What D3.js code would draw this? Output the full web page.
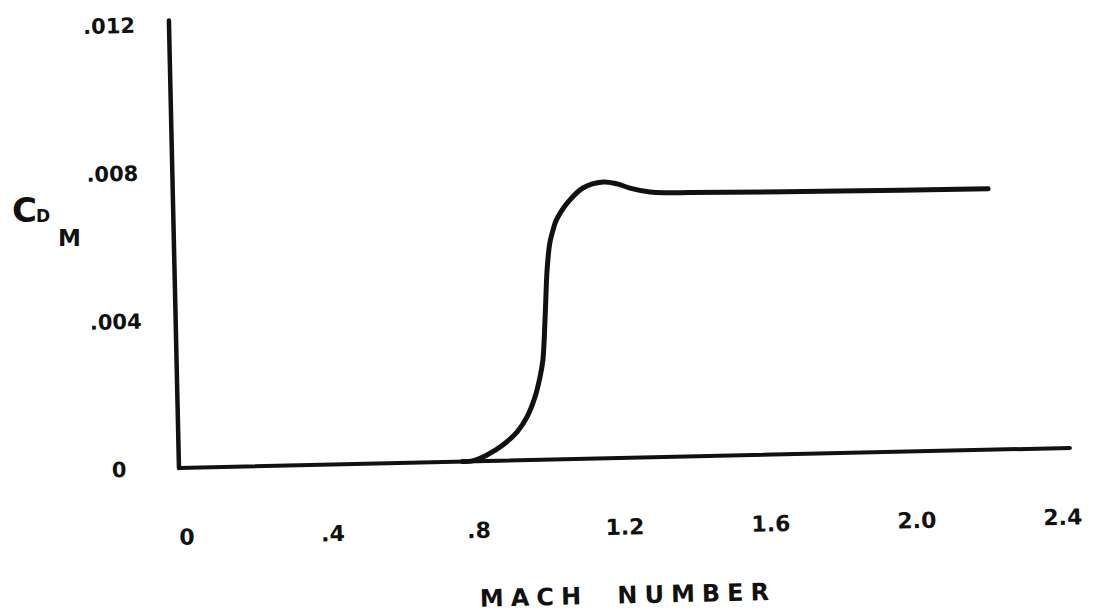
<!DOCTYPE html>
<html>
<head>
<meta charset="utf-8">
<script src="https://cdn.jsdelivr.net/npm/d3@7"></script>
<style>
  html, body { margin: 0; padding: 0; background: #fff; }
  svg { display: block; }
  text { font-family: "DejaVu Sans", sans-serif; font-weight: bold; fill: #111; }
</style>
</head>
<body>
<svg id="chart" width="1099" height="616"></svg>
<script>
// Drag coefficient C_DM versus Mach number
const mach = [0.76, 0.79, 0.828, 0.872, 0.912, 0.940, 0.963, 0.978, 0.987, 0.996, 1.004, 1.013, 1.022, 1.030, 1.045, 1.063, 1.107, 1.163, 1.201, 1.236, 1.291, 1.337, 1.40, 1.81, 2.217];
const cdm  = [0, 0.00002, 0.000165, 0.000425, 0.00077, 0.00117, 0.0017, 0.00224, 0.0027, 0.0039, 0.00513, 0.00585, 0.00618, 0.00642, 0.00668, 0.00692, 0.00732, 0.00747, 0.00741, 0.00729, 0.00717, 0.00714, 0.00713, 0.00708, 0.00705];

const xTicks = [0, 0.4, 0.8, 1.2, 1.6, 2.0, 2.4];
const xTickLabels = ["0", ".4", ".8", "1.2", "1.6", "2.0", "2.4"];
const yTicks = [0, 0.004, 0.008, 0.012];
const yTickLabels = ["0", ".004", ".008", ".012"];

// extent of the drawn axis lines, in data units
const xAxisExtent = [-0.0165, 2.425];
const yAxisExtent = [0, 0.0121];

const svg = d3.select("#chart");
svg.append("rect").attr("width", 1099).attr("height", 616).attr("fill", "#fff");

// the hand-drawn frame sits slightly tilted on the page
const g = svg.append("g").attr("transform", "translate(179,468) rotate(-1.29)");

const x = d3.scaleLinear().domain([0, 2.4]).range([6, 882]);
const y = d3.scaleLinear().domain([0, 0.012]).range([0, -444]);

// axis lines
g.append("line")
  .attr("x1", x(xAxisExtent[0])).attr("x2", x(xAxisExtent[1]))
  .attr("y1", y(0)).attr("y2", y(0))
  .attr("stroke", "#111").attr("stroke-width", 4).attr("stroke-linecap", "round");
g.append("line")
  .attr("x1", x(xAxisExtent[0])).attr("x2", x(xAxisExtent[0]))
  .attr("y1", y(yAxisExtent[0])).attr("y2", y(yAxisExtent[1]))
  .attr("stroke", "#111").attr("stroke-width", 4.5).attr("stroke-linecap", "round");

// x tick labels
const xAxis = g.append("g")
  .call(d3.axisBottom(x).tickValues(xTicks).tickFormat((d, i) => xTickLabels[i]).tickSize(0));
xAxis.select(".domain").remove();
xAxis.selectAll("text")
  .attr("y", 69).attr("dy", "0.35em")
  .style("font-size", "22px").style("font-family", "DejaVu Sans").style("font-weight", "bold")
  .attr("fill", "#111");

// y tick labels
const yAxis = g.append("g")
  .call(d3.axisLeft(y).tickValues(yTicks).tickFormat((d, i) => yTickLabels[i]).tickSize(0));
yAxis.select(".domain").remove();
yAxis.selectAll("text")
  .attr("x", -60).attr("dy", "0.35em").attr("text-anchor", "middle")
  .style("font-size", "21px").style("font-family", "DejaVu Sans").style("font-weight", "bold")
  .attr("fill", "#111");

// curve
const pts = mach.map((m, i) => [m, cdm[i]]);
const line = d3.line().x(d => x(d[0])).y(d => y(d[1])).curve(d3.curveCatmullRom.alpha(0.5));
g.append("path")
  .attr("d", line(pts))
  .attr("fill", "none").attr("stroke", "#111").attr("stroke-width", 5)
  .attr("stroke-linecap", "round").attr("stroke-linejoin", "round");

// x axis title
g.append("text")
  .attr("x", 446).attr("y", 137).attr("dy", "0.35em")
  .attr("text-anchor", "middle")
  .style("font-size", "24px").style("letter-spacing", "7px").style("word-spacing", "14px")
  .text("MACH NUMBER");

// y axis title C_DM
const yt = svg.append("text").attr("x", 12).attr("y", 222);
yt.append("tspan").style("font-size", "34px").text("C");
yt.append("tspan").style("font-size", "17px").attr("dx", -1).text("D");
yt.append("tspan").style("font-size", "23px").attr("dx", 8).attr("dy", 24).text("M");
</script>
</body>
</html>
